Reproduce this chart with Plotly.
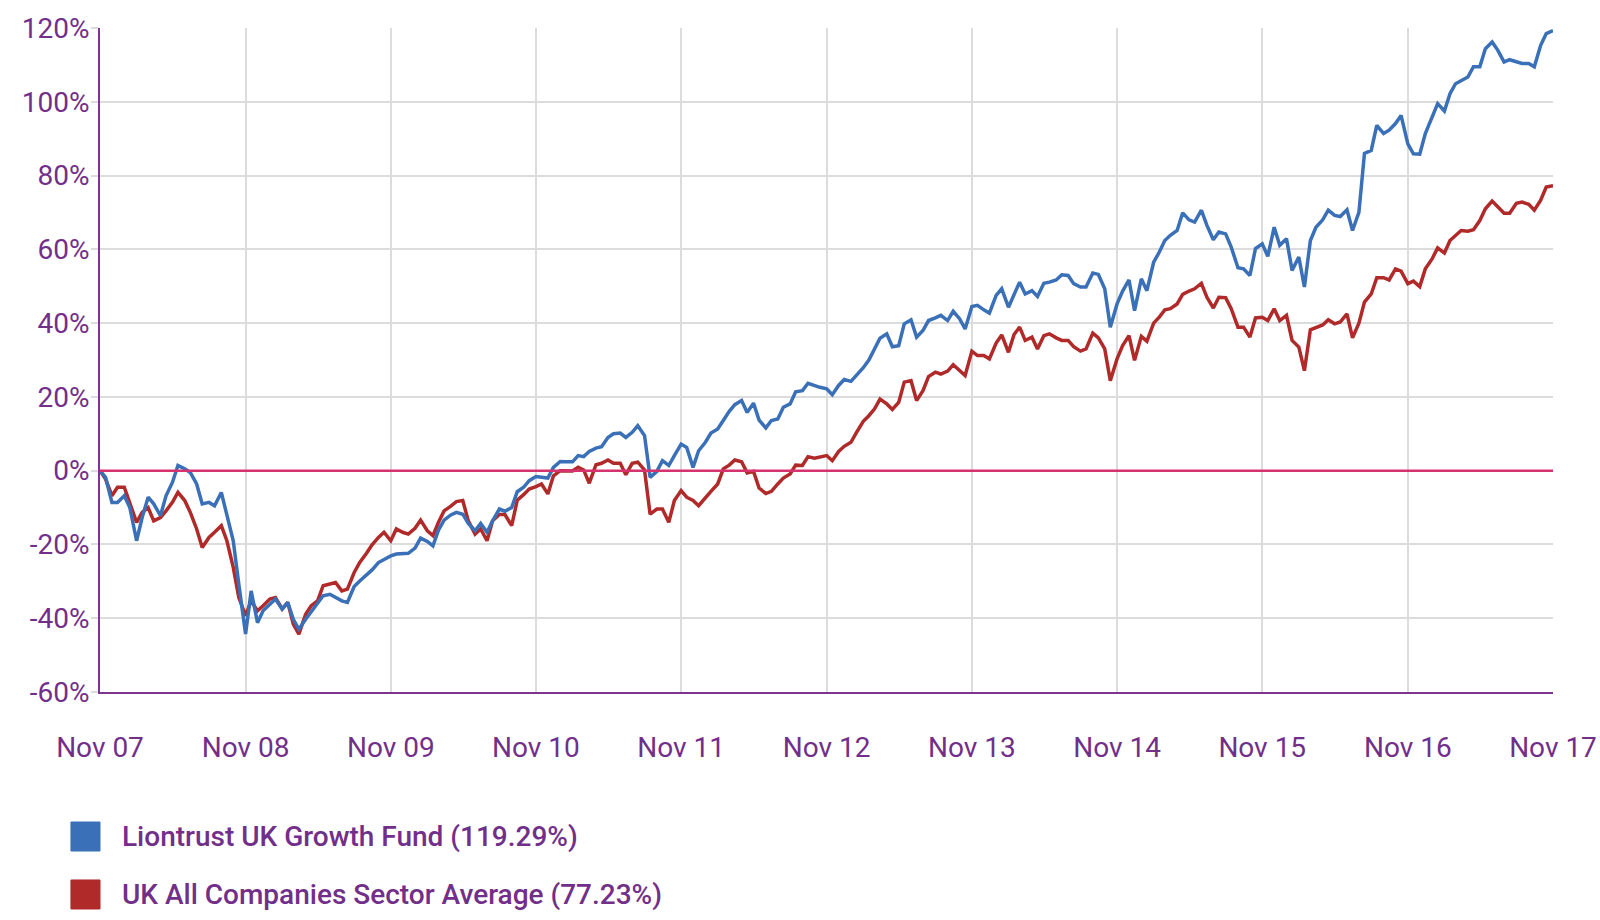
import plotly.graph_objects as go
import pandas as pd

# ---- data ----
START_DATE = "2007-11-01"
END_DATE = "2017-11-01"
DATES = pd.date_range(START_DATE, END_DATE, freq="SMS")  # semi-monthly sampling grid

SERIES_NAMES = ["Liontrust UK Growth Fund", "UK All Companies Sector Average"]

FUND = [
    0, -1.8, -8.6, -8.6, -6.8, -10, -19, -12.7, -7.2, -9,
    -12.2, -6.8, -3.2, 1.4, 0.5, -0.5, -3.6, -9, -8.6, -9.5,
    -5.9, -12.2, -19, -30.8, -44.3, -32.6, -41.2, -38, -36.2, -34.8,
    -37.5, -35.7, -40.3, -43, -40.3, -38.2, -35.7, -33.9, -33.5, -34.4,
    -35.3, -35.7, -31.4, -29.9, -28.2, -26.9, -24.9, -24, -23.1, -22.6,
    -22.6, -22.4, -21, -18.3, -19.2, -20.4, -16.1, -13.4, -12, -11.3,
    -11.8, -14.3, -16.3, -14.3, -16.7, -13.6, -10.4, -11, -10, -5.7,
    -4.5, -2.7, -1.6, -1.8, -2, 0.9, 2.5, 2.4, 2.4, 4.1,
    3.8, 5.2, 6.1, 6.5, 9, 10, 10.2, 9, 10.4, 12.2,
    9.5, -1.8, -0.2, 2.7, 1.4, 4.1, 7.2, 6.3, 0.9, 5.4,
    7.7, 10.2, 11.3, 13.6, 16.1, 17.9, 19, 15.8, 18.3, 13.7,
    11.6, 13.6, 14, 17.2, 18.1, 21.4, 21.7, 23.7, 23.1, 22.6,
    22.2, 20.6, 23.1, 24.7, 24.2, 25.8, 27.9, 30, 33, 35.9,
    37.1, 33.6, 33.9, 39.8, 40.9, 36.2, 38, 40.7, 41.4, 42.1,
    40.7, 43.2, 41.2, 38.4, 44.5, 44.8, 43.6, 42.7, 47.5, 49.3,
    44.3, 47.5, 51.1, 47.9, 48.8, 47.2, 50.8, 51.1, 51.7, 53.1,
    52.9, 50.7, 49.8, 49.8, 53.6, 53.2, 49.3, 38.9, 45.2, 48.7,
    51.7, 43.4, 52, 48.8, 56.5, 59.2, 62.4, 63.8, 65.1, 69.9,
    68, 67.4, 70.6, 66.5, 62.6, 64.7, 64.2, 60.6, 55, 54.7,
    52.9, 60.2, 61.5, 58.1, 66, 61.1, 62.9, 54.3, 57.9, 49.8,
    62.4, 66, 68, 70.6, 69.2, 68.9, 70.7, 65.1, 70, 86,
    86.8, 93.6, 91.4, 92.3, 94.1, 96.3, 88.6, 85.9, 85.8, 91.4,
    95.9, 99.5, 97.5, 102.2, 104.9, 105.6, 106.7, 109.5, 109.5, 114.4,
    116.2, 114, 110.8, 111.4, 110.8, 110.4, 110.4, 109.5, 115.3, 118.5,
    119.29,
]

SECTOR = [
    0, -2.3, -6.8, -4.5, -4.5, -8.6, -14, -11.3, -10, -13.6,
    -12.7, -10.9, -8.6, -5.9, -8.1, -11.3, -15.8, -20.8, -18.1, -16.7,
    -14.9, -19, -26.2, -34.4, -39.3, -35.3, -38, -36.6, -34.8, -34.4,
    -37.5, -35.7, -41.6, -44.3, -38.9, -36.6, -35.3, -31.2, -30.6, -30.3,
    -32.6, -32.1, -27.6, -24.9, -22.4, -20.1, -18.1, -16.7, -19, -15.8,
    -16.7, -17.2, -15.6, -13.4, -16.3, -17.6, -14, -10.9, -9.6, -8.4,
    -8.1, -13.6, -17.2, -15.8, -19, -13.6, -11.9, -11.9, -14.9, -8,
    -6.5, -5, -4.3, -3.6, -6.3, -1.4, 0, 0, -0.1, 0.9,
    0.2, -3.4, 1.6, 2, 2.9, 2, 2, -1.1, 2, 2.3,
    0.2, -11.8, -10.4, -10.4, -14, -8.1, -5.4, -7.2, -8.1, -9.5,
    -7.2, -5.6, -3.6, 0.5, 1.5, 2.9, 2.4, -0.6, -0.2, -4.7,
    -6.2, -5.6, -3.6, -2, -0.9, 1.5, 1.4, 3.8, 3.4, 3.8,
    4.1, 2.7, 5.2, 6.6, 7.7, 10.4, 13.4, 14.9, 16.7, 19.4,
    18.1, 16.6, 18.5, 24, 24.4, 19, 21.7, 25.5, 26.7, 26.2,
    27, 28.7, 27.1, 25.8, 32.4, 31.2, 31.2, 30.3, 34.6, 36.8,
    32.1, 36.9, 38.9, 35.3, 36.2, 33, 36.6, 37.1, 36, 35.3,
    35.3, 33.6, 32.4, 33, 37.3, 36, 33, 24.4, 30.3, 33.9,
    36.6, 29.9, 36.4, 35.1, 40, 41.6, 43.6, 43.9, 45.2, 47.8,
    48.7, 49.3, 50.8, 47, 44.1, 47, 46.9, 43.9, 38.9, 38.9,
    36.2, 41.4, 41.6, 40.7, 43.9, 40.7, 42.1, 35.3, 33.5, 27.1,
    38.2, 38.9, 39.5, 40.9, 39.8, 40.3, 42.5, 36, 40, 45.7,
    47.9, 52.3, 52.3, 51.7, 54.7, 54.1, 50.7, 51.4, 49.9, 54.7,
    57.4, 60.4, 59, 62.4, 63.8, 65.1, 64.9, 65.3, 67.8, 71,
    73.1, 71.6, 69.8, 69.8, 72.5, 72.8, 72.2, 70.6, 73.3, 76.9,
    77.23,
]

X_TICK_DATES = ["2007-11-01", "2008-11-01", "2009-11-01", "2010-11-01", "2011-11-01",
                "2012-11-01", "2013-11-01", "2014-11-01", "2015-11-01", "2016-11-01",
                "2017-11-01"]
X_TICK_LABELS = ["Nov 07", "Nov 08", "Nov 09", "Nov 10", "Nov 11", "Nov 12",
                 "Nov 13", "Nov 14", "Nov 15", "Nov 16", "Nov 17"]
Y_TICKS = [-60, -40, -20, 0, 20, 40, 60, 80, 100, 120]
Y_TICK_LABELS = ["-60%", "-40%", "-20%", "0%", "20%", "40%", "60%", "80%", "100%", "120%"]

# ---- styles ----
BLUE = "#3a70b8"
RED = "#b02a2a"
PURPLE = "#722f8a"
AXIS_PURPLE = "#7e3592"
PINK = "#d6336e"
GRID = "#dcdcdc"
FONT = "Roboto"

series = [(SERIES_NAMES[1], SECTOR, RED), (SERIES_NAMES[0], FUND, BLUE)]

fig = go.Figure()
for name, vals, color in series:
    fig.add_trace(go.Scatter(
        x=DATES, y=vals, mode="lines", name=name,
        line=dict(color=color, width=3.5), showlegend=False,
        hovertemplate="%{x|%d %b %Y}: %{y:.2f}%<extra></extra>",
    ))

# zero reference line drawn on top of the series
fig.add_shape(type="line", xref="paper", x0=0, x1=1, yref="y", y0=0, y1=0,
              line=dict(color=PINK, width=2.5), layer="above")

# custom legend (square swatches + labels) below the plot
legend_items = [(SERIES_NAMES[0], FUND, BLUE), (SERIES_NAMES[1], SECTOR, RED)]
row_y = [(-0.1958, -0.2395), (-0.2831, -0.3268)]
for (name, vals, color), (ya, yb) in zip(legend_items, row_y):
    fig.add_shape(type="rect", xref="paper", yref="paper",
                  x0=-0.0200, x1=0.0, y0=yb, y1=ya,
                  fillcolor=color, line=dict(color=color, width=1), layer="above")
    fig.add_annotation(xref="paper", yref="paper", x=0.0138, y=(ya + yb) / 2,
                       xanchor="left", yanchor="middle", showarrow=False,
                       text=f"{name} ({vals[-1]:.2f}%)",
                       font=dict(family=FONT, size=28, color=PURPLE, weight=500))

fig.update_layout(
    width=1600, height=920,
    margin=dict(l=100, r=47, t=28, b=228, pad=0),
    paper_bgcolor="white", plot_bgcolor="white",
    font=dict(family=FONT, size=28, color=PURPLE),
    showlegend=False,
)
fig.update_xaxes(
    type="date", range=[START_DATE, END_DATE], automargin=False,
    tickmode="array", tickvals=X_TICK_DATES, ticktext=X_TICK_LABELS,
    showgrid=True, gridcolor=GRID, gridwidth=2,
    ticks="outside", ticklen=29, tickcolor="rgba(0,0,0,0)",
    tickfont=dict(family=FONT, size=28, color=PURPLE),
    showline=True, linecolor=AXIS_PURPLE, linewidth=2,
    zeroline=False,
)
fig.update_yaxes(
    range=[-60, 120], automargin=False,
    tickmode="array", tickvals=Y_TICKS, ticktext=Y_TICK_LABELS,
    showgrid=True, gridcolor=GRID, gridwidth=2,
    ticks="outside", ticklen=7, tickcolor=GRID, tickwidth=2,
    ticklabelstandoff=-4,
    tickfont=dict(family=FONT, size=28, color=PURPLE),
    showline=True, linecolor=AXIS_PURPLE, linewidth=2,
    zeroline=False,
)

fig.write_html("out.html", config={"displayModeBar": False},
               post_script="document.body.style.margin='0';")
